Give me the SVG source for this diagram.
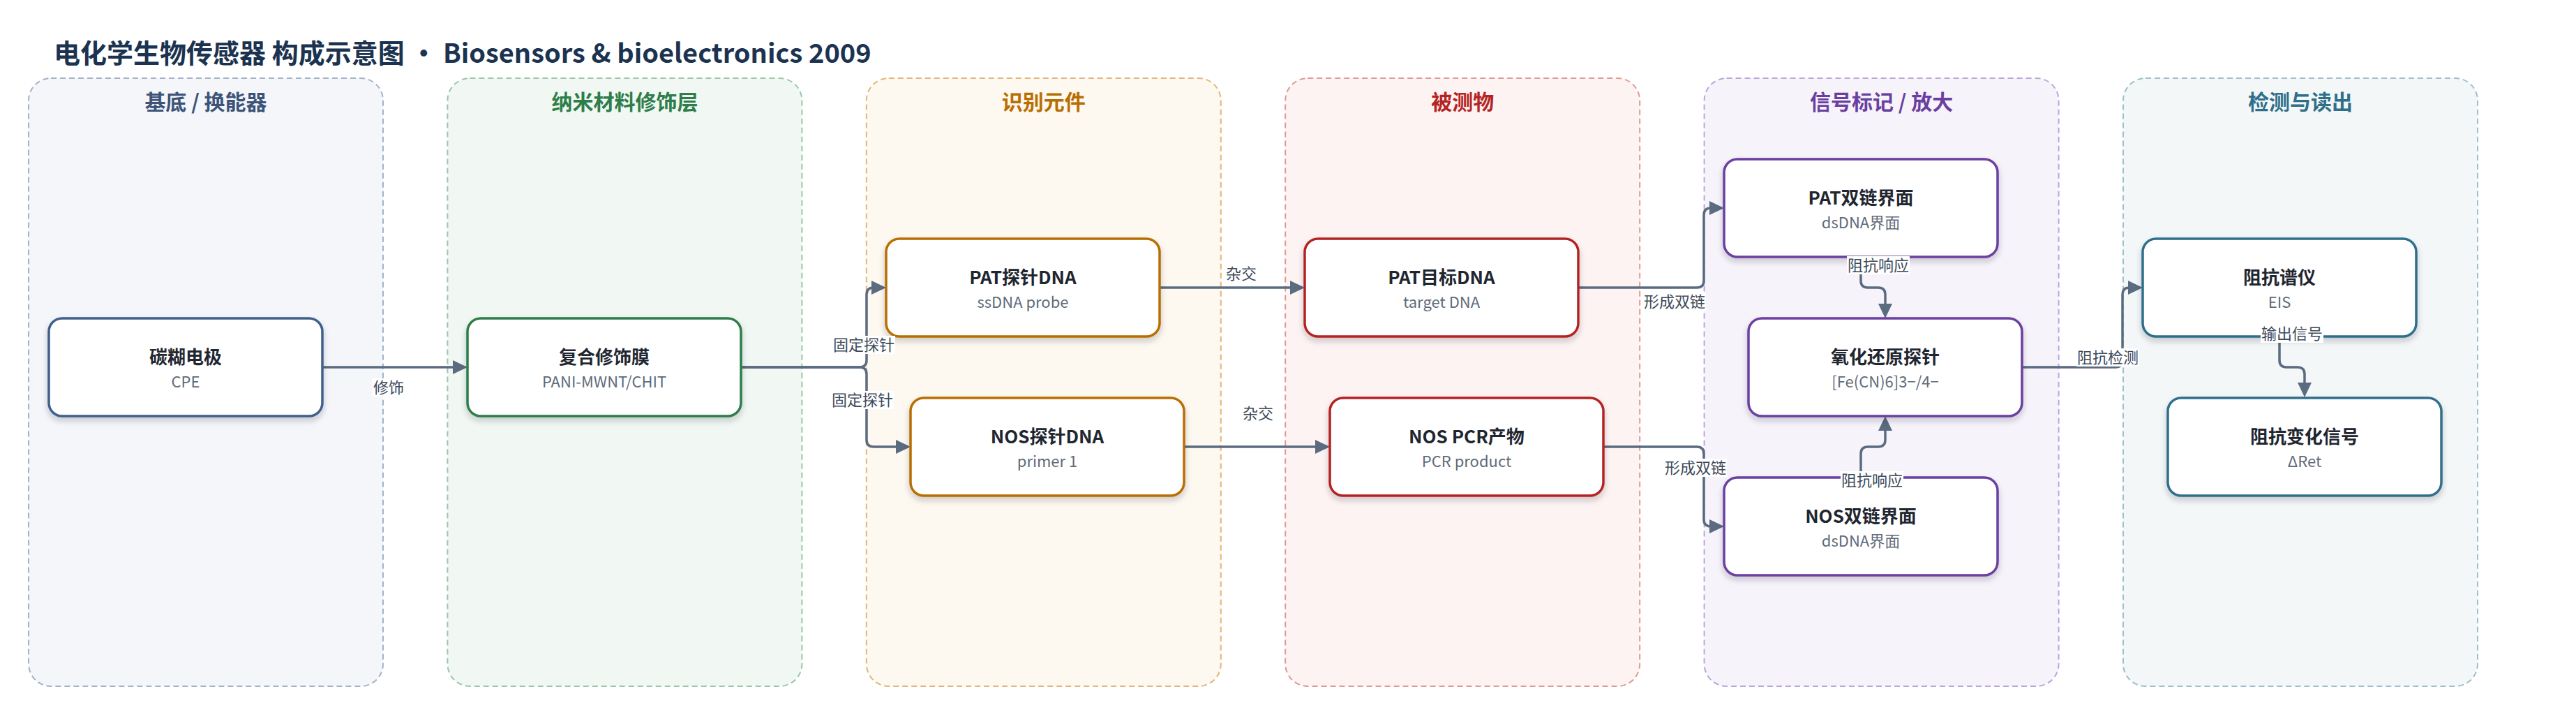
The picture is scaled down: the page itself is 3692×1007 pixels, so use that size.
<svg xmlns="http://www.w3.org/2000/svg" width="3692" height="1007" viewBox="0 0 3692 1007">
<defs>
<style>
text{font-family:"Noto Sans CJK SC","Noto Sans",sans-serif}
.title{font-size:38px;font-weight:700;fill:#1b3350}
.lane{stroke-width:2;stroke-dasharray:8 5}
.lt{font-size:30px;font-weight:700;text-anchor:middle}
.node rect{fill:#fff;stroke-width:3.5;filter:url(#sh)}
.nt{font-size:26px;font-weight:700;fill:#1f2630;text-anchor:middle}
.ns{font-size:22px;fill:#5f6b7a;text-anchor:middle}
.edge{fill:none;stroke:#5b6b80;stroke-width:3.5;marker-end:url(#ah)}
.lb rect{fill:#fff}
.lb text{font-size:22px;fill:#3e4a5a;text-anchor:middle}
</style>
<filter id="sh" x="-10%" y="-20%" width="120%" height="150%">
<feDropShadow dx="0" dy="5" stdDeviation="4" flood-color="#1b2a3a" flood-opacity="0.22"/>
</filter>
<marker id="ah" viewBox="0 0 21 20" refX="16" refY="10" markerWidth="21" markerHeight="20" markerUnits="userSpaceOnUse" orient="auto">
<path d="M0,0 L21,10 L0,20 z" fill="#5b6b80"/>
</marker>
</defs>
<rect width="3692" height="1007" fill="#fff"/>
<text class="title" x="77" y="90">电化学生物传感器 构成示意图 • Biosensors &amp; bioelectronics 2009</text>

<g id="lanes">
<g id="lane1"><rect class="lane" x="41" y="112" width="508" height="871" rx="32" fill="#f4f6fa" stroke="#a3b2c8"/><text class="lt" x="295" y="157" fill="#3d5478">基底 / 换能器</text></g>
<g id="lane2"><rect class="lane" x="641.4" y="112" width="508" height="871" rx="32" fill="#f1f8f3" stroke="#9cc6a9"/><text class="lt" x="895.4" y="157" fill="#2e7d4a">纳米材料修饰层</text></g>
<g id="lane3"><rect class="lane" x="1241.8" y="112" width="508" height="871" rx="32" fill="#fdf8f0" stroke="#e2b679"/><text class="lt" x="1495.8" y="157" fill="#b86e00">识别元件</text></g>
<g id="lane4"><rect class="lane" x="1842.2" y="112" width="508" height="871" rx="32" fill="#fdf3f2" stroke="#df9996"/><text class="lt" x="2096.2" y="157" fill="#b52424">被测物</text></g>
<g id="lane5"><rect class="lane" x="2442.6" y="112" width="508" height="871" rx="32" fill="#f6f3fb" stroke="#bca5da"/><text class="lt" x="2696.6" y="157" fill="#6b3fa0">信号标记 / 放大</text></g>
<g id="lane6"><rect class="lane" x="3043" y="112" width="508" height="871" rx="32" fill="#f3f7f8" stroke="#9ebfcb"/><text class="lt" x="3297" y="157" fill="#2f6f8a">检测与读出</text></g>
</g>

<g id="connectors">
<path class="edge" d="M462,526 H665"/>
<path class="edge" d="M1062,526 H1232 Q1242,526 1242,516 V422 Q1242,412 1252,412 H1265"/>
<path class="edge" d="M1062,526 H1232 Q1242,526 1242,536 V630 Q1242,640 1252,640 H1300"/>
<path class="edge" d="M1662,412 H1865"/>
<path class="edge" d="M1697,640 H1901"/>
<path class="edge" d="M2262,412 H2432 Q2442,412 2442,402 V308 Q2442,298 2452,298 H2466"/>
<path class="edge" d="M2298,640 H2432 Q2442,640 2442,650 V744 Q2442,754 2452,754 H2466"/>
<path class="edge" d="M2667,368 V402 Q2667,412 2677,412 H2692 Q2702,412 2702,422 V451"/>
<path class="edge" d="M2667,684 V650 Q2667,640 2677,640 H2692 Q2702,640 2702,630 V601"/>
<path class="edge" d="M2898,526 H3032 Q3042,526 3042,516 V422 Q3042,412 3052,412 H3066"/>
<path class="edge" d="M3267,482 V516 Q3267,526 3277,526 H3293 Q3303,526 3303,536 V564"/>
</g>

<g id="nodes">
<g id="n1" class="node"><rect x="70" y="456" width="392" height="140" rx="19" stroke="#3f5f8a"/><text class="nt" x="266" y="521">碳糊电极</text><text class="ns" x="266" y="555">CPE</text></g>
<g id="n2" class="node"><rect x="670" y="456" width="392" height="140" rx="19" stroke="#2e7d4a"/><text class="nt" x="866" y="521">复合修饰膜</text><text class="ns" x="866" y="555">PANI-MWNT/CHIT</text></g>
<g id="n3" class="node"><rect x="1270" y="342" width="392" height="140" rx="19" stroke="#b86e00"/><text class="nt" x="1466" y="407">PAT探针DNA</text><text class="ns" x="1466" y="441">ssDNA probe</text></g>
<g id="n4" class="node"><rect x="1305" y="570" width="392" height="140" rx="19" stroke="#b86e00"/><text class="nt" x="1501" y="635">NOS探针DNA</text><text class="ns" x="1501" y="669">primer 1</text></g>
<g id="n5" class="node"><rect x="1870" y="342" width="392" height="140" rx="19" stroke="#b52424"/><text class="nt" x="2066" y="407">PAT目标DNA</text><text class="ns" x="2066" y="441">target DNA</text></g>
<g id="n6" class="node"><rect x="1906" y="570" width="392" height="140" rx="19" stroke="#b52424"/><text class="nt" x="2102" y="635">NOS PCR产物</text><text class="ns" x="2102" y="669">PCR product</text></g>
<g id="n7" class="node"><rect x="2471" y="228" width="392" height="140" rx="19" stroke="#6b3fa0"/><text class="nt" x="2667" y="293">PAT双链界面</text><text class="ns" x="2667" y="327">dsDNA界面</text></g>
<g id="n8" class="node"><rect x="2506" y="456" width="392" height="140" rx="19" stroke="#6b3fa0"/><text class="nt" x="2702" y="521">氧化还原探针</text><text class="ns" x="2702" y="555">[Fe(CN)6]3−/4−</text></g>
<g id="n9" class="node"><rect x="2471" y="684" width="392" height="140" rx="19" stroke="#6b3fa0"/><text class="nt" x="2667" y="749">NOS双链界面</text><text class="ns" x="2667" y="783">dsDNA界面</text></g>
<g id="n10" class="node"><rect x="3071" y="342" width="392" height="140" rx="19" stroke="#2f6f8a"/><text class="nt" x="3267" y="407">阻抗谱仪</text><text class="ns" x="3267" y="441">EIS</text></g>
<g id="n11" class="node"><rect x="3107" y="570" width="392" height="140" rx="19" stroke="#2f6f8a"/><text class="nt" x="3303" y="635">阻抗变化信号</text><text class="ns" x="3303" y="669">ΔRet</text></g>
</g>

<g id="edge-labels">
<g class="lb"><rect x="533" y="542" width="48" height="26"/><text x="557" y="563">修饰</text></g>
<g class="lb"><rect x="1193" y="481" width="90" height="26"/><text x="1238" y="502">固定探针</text></g>
<g class="lb"><rect x="1191" y="560" width="90" height="26"/><text x="1236" y="581">固定探针</text></g>
<g class="lb"><rect x="1755" y="379" width="48" height="26"/><text x="1779" y="400">杂交</text></g>
<g class="lb"><rect x="1779" y="579" width="48" height="26"/><text x="1803" y="600">杂交</text></g>
<g class="lb"><rect x="2355" y="419" width="90" height="26"/><text x="2400" y="440">形成双链</text></g>
<g class="lb"><rect x="2385" y="657" width="90" height="26"/><text x="2430" y="678">形成双链</text></g>
<g class="lb"><rect x="2647" y="367" width="90" height="26"/><text x="2692" y="388">阻抗响应</text></g>
<g class="lb"><rect x="2638" y="675" width="90" height="26"/><text x="2683" y="696">阻抗响应</text></g>
<g class="lb"><rect x="2976" y="499" width="90" height="26"/><text x="3021" y="520">阻抗检测</text></g>
<g class="lb"><rect x="3240" y="465" width="90" height="26"/><text x="3285" y="486">输出信号</text></g>
</g>
</svg>
